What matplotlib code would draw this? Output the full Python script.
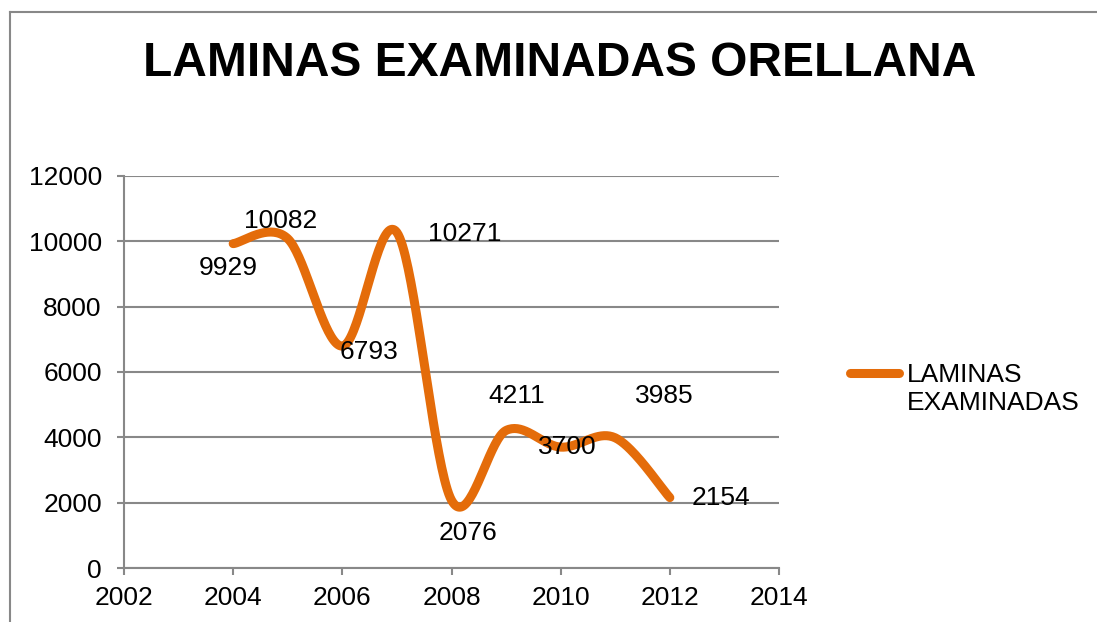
import numpy as np
import matplotlib
matplotlib.use("Agg")
import matplotlib.pyplot as plt
from matplotlib.lines import Line2D
from matplotlib.legend_handler import HandlerLine2D

years = [2004, 2005, 2006, 2007, 2008, 2009, 2010, 2011, 2012]
values = [9929, 10082, 6793, 10271, 2076, 4211, 3700, 3985, 2154]
series_name = "LAMINAS\nEXAMINADAS"
title = "LAMINAS EXAMINADAS ORELLANA"
x_ticks = [2002, 2004, 2006, 2008, 2010, 2012, 2014]
y_ticks = [0, 2000, 4000, 6000, 8000, 10000, 12000]

# label offsets in pixels (dx right, dy up), in year order
label_offsets = [(-5, -24), (-7, 18), (27, -6), (68, -2), (16, -33),
                 (11, 34), (7, 0), (49, 42), (51, 0)]

ORANGE = "#E46C0A"
GRID = "#888888"
FONT = "Liberation Sans"

plt.rcParams['font.family'] = [FONT, 'DejaVu Sans']


def smooth(xs, ys, n=40):
    xs = np.asarray(xs, float)
    ys = np.asarray(ys, float)
    px = np.concatenate([[xs[0]], xs, [xs[-1]]])
    py = np.concatenate([[ys[0]], ys, [ys[-1]]])
    outx, outy = [], []
    t = np.linspace(0, 1, n)
    for i in range(1, len(px) - 2):
        p0x, p0y = px[i], py[i]
        p3x, p3y = px[i + 1], py[i + 1]
        c1x = p0x + (px[i + 1] - px[i - 1]) / 6
        c1y = p0y + (py[i + 1] - py[i - 1]) / 6
        c2x = p3x - (px[i + 2] - px[i]) / 6
        c2y = p3y - (py[i + 2] - py[i]) / 6
        bx = (1 - t) ** 3 * p0x + 3 * (1 - t) ** 2 * t * c1x + 3 * (1 - t) * t ** 2 * c2x + t ** 3 * p3x
        by = (1 - t) ** 3 * p0y + 3 * (1 - t) ** 2 * t * c1y + 3 * (1 - t) * t ** 2 * c2y + t ** 3 * p3y
        outx.extend(bx)
        outy.extend(by)
    return np.array(outx), np.array(outy)


class UpHandler(HandlerLine2D):
    def __init__(self, shift, **kw):
        super().__init__(**kw)
        self.shift = shift

    def create_artists(self, legend, orig_handle, xdescent, ydescent, width,
                       height, fontsize, trans):
        return super().create_artists(legend, orig_handle, xdescent,
                                      ydescent - 2 * self.shift, width, height,
                                      fontsize, trans)


W, H = 1097, 622
fig = plt.figure(figsize=(W / 100, H / 100), dpi=100)
ax = fig.add_axes([124 / W, 1 - 568 / H, (779 - 124) / W, (568 - 176) / H])

sx, sy = smooth(years, values)
line, = ax.plot(sx, sy, color=ORANGE, lw=6.5, solid_capstyle='round',
                solid_joinstyle='round', label=series_name, zorder=3)

for x, y, (dx, dy) in zip(years, values, label_offsets):
    ax.annotate(f"{y}", (x, y), xytext=(dx, dy), textcoords='offset pixels',
                ha='center', va='center', fontsize=19, color='black', zorder=4)

ax.set_xlim(2002, 2014)
ax.set_ylim(0, 12000)
ax.set_xticks(x_ticks)
ax.set_yticks(y_ticks)
ax.set_xticklabels([str(v) for v in x_ticks])
ax.set_yticklabels([str(v) for v in y_ticks])
ax.tick_params(axis='both', direction='out', length=5, width=1.5, color=GRID,
               labelsize=19)
ax.tick_params(axis='x', pad=8)
ax.tick_params(axis='y', pad=11)
ax.yaxis.grid(True, color=GRID, lw=1.5)
ax.set_axisbelow(True)
for s in ['top', 'right']:
    ax.spines[s].set_visible(False)
for s in ['left', 'bottom']:
    ax.spines[s].set_color(GRID)
    ax.spines[s].set_linewidth(1.5)
ax.set_facecolor('white')

fig.text(560 / W, 1 - 63.5 / H, title, ha='center', va='center', fontsize=34.5,
         fontweight='bold', color='black')

leg = fig.legend(handles=[line], loc='center left', bbox_to_anchor=(850 / W, 1 - 389 / H),
                 frameon=False, fontsize=19, handlelength=1.86, handletextpad=0.3,
                 borderpad=0, borderaxespad=0, labelspacing=0.3,
                 handler_map={line: UpHandler(shift=11.5)})

# chart-area border (top and left visible)
fig.add_artist(Line2D([10 / W, 10 / W], [0, 1 - 12 / H], transform=fig.transFigure,
                      color=GRID, lw=1.5))
fig.add_artist(Line2D([10 / W, 1], [1 - 12 / H, 1 - 12 / H], transform=fig.transFigure,
                      color=GRID, lw=1.5))

fig.savefig("out.png", dpi=100, facecolor='white')
